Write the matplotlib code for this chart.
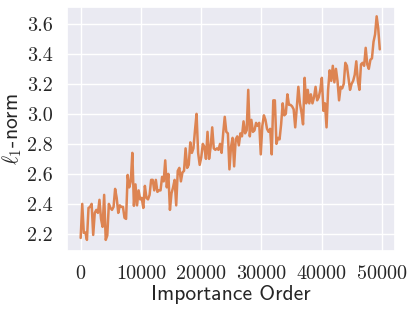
import numpy as np
import matplotlib
matplotlib.use('Agg')
import matplotlib.pyplot as plt
import seaborn as sns

# l1-norm of weights sorted by importance order
norm_a = [2.173, 2.40, 2.207, 2.21, 2.16, 2.373, 2.38, 2.40, 2.193, 2.34,
          2.36, 2.34, 2.427, 2.30, 2.247, 2.46, 2.16, 2.19, 2.40, 2.373,
          2.36, 2.38, 2.50, 2.44, 2.34, 2.39, 2.38, 2.38, 2.307, 2.30,
          2.593, 2.51, 2.55, 2.74, 2.387, 2.53, 2.39, 2.49, 2.43, 2.44,
          2.373, 2.52, 2.44, 2.43, 2.46, 2.56, 2.56, 2.49, 2.56, 2.48, 2.49]
norm_b = [2.49, 2.58, 2.55, 2.69, 2.51, 2.60, 2.36, 2.47, 2.51, 2.56,
          2.39, 2.62, 2.64, 2.55, 2.61, 2.62, 2.77, 2.64, 2.66, 2.81,
          2.74, 2.77, 2.89, 3.00, 2.74, 2.66, 2.71, 2.80, 2.78, 2.70,
          2.88, 2.70, 2.78, 2.91, 2.77, 2.76, 2.77, 2.76, 2.80, 2.74,
          2.87, 2.98, 2.88, 2.87, 2.63, 2.78, 2.84, 2.65, 2.83, 2.85,
          2.79, 2.87, 2.85, 2.95, 2.87, 2.89, 3.16, 2.85, 2.96, 2.88,
          2.89, 2.94, 2.92, 2.94, 2.73, 2.92, 2.99, 2.96, 2.90, 2.88, 2.90]
norm_c = [2.73, 3.09, 3.09, 2.80, 2.84, 2.83, 2.93, 3.07, 2.99, 3.00,
          3.13, 3.06, 3.06, 3.05, 3.03, 2.91, 3.04, 3.18, 3.07, 3.01,
          2.93, 3.24, 3.07, 3.16, 3.07, 3.13, 3.07, 3.11, 3.18, 3.09,
          3.11, 3.16, 3.24, 3.02, 3.07, 2.91, 3.16, 3.29, 3.22, 3.32,
          3.21, 3.30, 3.22, 3.09, 3.18, 3.17, 3.20, 3.34, 3.32, 3.24,
          3.16, 3.20, 3.22, 3.26, 3.35, 3.22, 3.16, 3.33, 3.34, 3.32,
          3.44, 3.33, 3.30, 3.36, 3.37, 3.48, 3.53, 3.65, 3.57, 3.43]
l1norm = np.array(norm_a + norm_b + norm_c)
order = np.arange(len(l1norm)) * 260

xticks = [0, 10000, 20000, 30000, 40000, 50000]
yticks = [2.2, 2.4, 2.6, 2.8, 3.0, 3.2, 3.4, 3.6]

sns.set_theme(style='darkgrid')
plt.rcParams['font.family'] = ['cmr10']
plt.rcParams['mathtext.fontset'] = 'cm'
plt.rcParams['axes.formatter.use_mathtext'] = True

fig = plt.figure(figsize=(4.15, 3.12), dpi=100)
ax = fig.add_axes([0.161, 0.196, 0.791, 0.782])
ax.plot(order, l1norm, color=sns.color_palette('deep')[1], lw=1.8)

ax.set_xlim(-2300, 52200)
ax.set_ylim(2.087, 3.713)
ax.set_xticks(xticks)
ax.set_xticklabels([str(t) for t in xticks])
ax.set_yticks(yticks)
ax.set_yticklabels(['%.1f' % t for t in yticks])
ax.tick_params(labelsize=14.5, pad=4)

ax.set_xlabel('Importance Order', fontfamily='cmss10', fontsize=15.5, labelpad=2)
ax.set_ylabel(r'$\ell_1$-norm', fontfamily='cmss10', fontsize=15.5, labelpad=2)

fig.savefig('out.png', dpi=100)
